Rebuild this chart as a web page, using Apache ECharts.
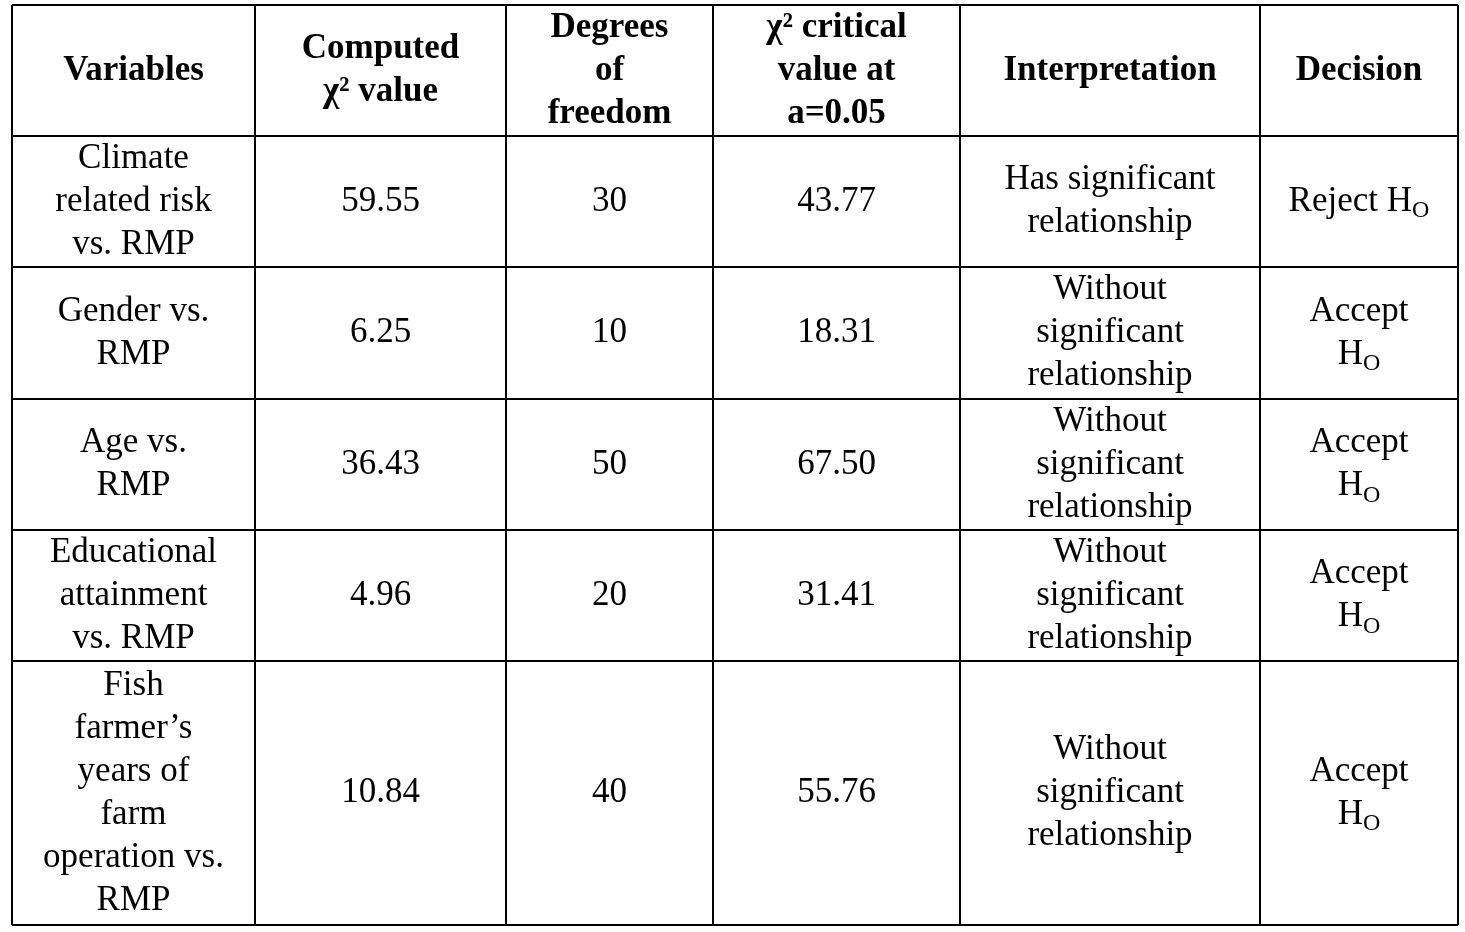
<!DOCTYPE html>
<html><head><meta charset="utf-8">
<script src="https://cdn.jsdelivr.net/npm/echarts@6/dist/echarts.min.js"></script>
<style>html,body{margin:0;padding:0;background:#fff}#c{width:1465px;height:932px}</style>
</head><body><div id="c"></div>
<script>
const headers = ["Variables","Computed\nχ² value","Degrees\nof\nfreedom","χ² critical\nvalue at\na=0.05","Interpretation","Decision"];
const variables = ["Climate\nrelated risk\nvs. RMP","Gender vs.\nRMP","Age vs.\nRMP","Educational\nattainment\nvs. RMP","Fish\nfarmer’s\nyears of\nfarm\noperation vs.\nRMP"];
const computed = ["59.55","6.25","36.43","4.96","10.84"];
const dof = ["30","10","50","20","40"];
const critical = ["43.77","18.31","67.50","31.41","55.76"];
const interpretation = ["Has significant\nrelationship","Without\nsignificant\nrelationship","Without\nsignificant\nrelationship","Without\nsignificant\nrelationship","Without\nsignificant\nrelationship"];
const decision = ["Reject H{s|O}","Accept\nH{s|O}","Accept\nH{s|O}","Accept\nH{s|O}","Accept\nH{s|O}"];

const colX = [12,255,506,713,960,1260,1458];
const rowY = [5,136,267,399,530,661,925];
const els = [];
const lw = 2;
colX.forEach(x=>els.push({type:'line',shape:{x1:x,y1:rowY[0],x2:x,y2:rowY[rowY.length-1]},style:{stroke:'#000',lineWidth:lw}}));
rowY.forEach(y=>els.push({type:'line',shape:{x1:colX[0],y1:y,x2:colX[colX.length-1],y2:y},style:{stroke:'#000',lineWidth:lw}}));
function cell(c,r,text,bold){
  const cx=(colX[c]+colX[c+1])/2, cy=(rowY[r]+rowY[r+1])/2;
  els.push({type:'text',x:cx,y:cy,style:{text:text,fill:'#000',align:'center',verticalAlign:'middle',
    fontFamily:'Liberation Serif',fontSize:35,fontWeight:bold?'bold':'normal',lineHeight:43,
    rich:{s:{fontSize:24,verticalAlign:'bottom',fontFamily:'Liberation Serif',lineHeight:43,padding:[14,0,0,0]}}}});
}
headers.forEach((h,i)=>cell(i,0,h,true));
const cols=[variables,computed,dof,critical,interpretation,decision];
cols.forEach((arr,c)=>arr.forEach((t,r)=>cell(c,r+1,t,false)));
const chart=echarts.init(document.getElementById('c'));
chart.setOption({animation:false,graphic:{elements:els}});
</script></body></html>
